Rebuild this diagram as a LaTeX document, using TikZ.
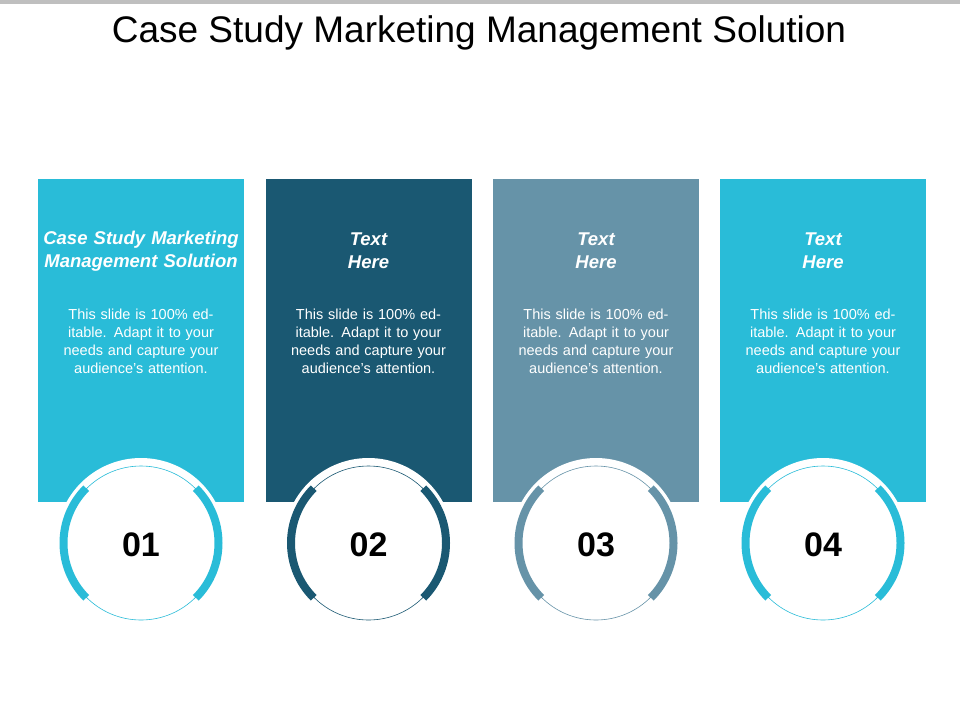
\documentclass[tikz,border=0pt]{standalone}
\usepackage{fontspec}
\setmainfont{Liberation Sans}
\definecolor{cA}{HTML}{29BCD8}
\definecolor{cB}{HTML}{1A5872}
\definecolor{cC}{HTML}{6693A8}
\begin{document}
\begin{tikzpicture}[x=1pt,y=-1pt,
  panel/.style={fill=#1,draw=none},
  head/.style={text=white,font=\fontsize{18.5}{23}\selectfont\bfseries\itshape,align=center,text width=210pt},
  body/.style={text=white,font=\fontsize{14.5}{18}\selectfont,align=center,text width=160pt},
  num/.style={font=\fontsize{34}{36}\selectfont\bfseries}]
\useasboundingbox (0,0) rectangle (960,720);
\fill[white] (0,0) rectangle (960,720);
\fill[black!25] (0,0) rectangle (960,4);
\node[font=\fontsize{37}{40}\selectfont] (title) at (479,33) {Case Study Marketing Management Solution};
\foreach \i/\x/\c/\h in {1/141/cA/{Case Study Marketing\\Management Solution},2/368.5/cB/{Text\\Here},3/596/cC/{Text\\Here},4/823/cA/{Text\\Here}}{
  \fill[panel=\c] (\x-103,179) rectangle (\x+103,502);
  \node[head] (h\i) at (\x,251) {\h};
  \node[body] (b\i) at (\x,341) {This slide is 100\% editable. Adapt it to your needs and capture your audience's attention.};
  \fill[white] (\x,543) circle (85);
  \draw[\c,line width=0.6pt] (\x,543) circle (77);
  \draw[\c,line width=8pt] ([shift={(135:77.5)}]\x,543) arc[start angle=135,end angle=225,radius=77.5];
  \draw[\c,line width=8pt] ([shift={(-45:77.5)}]\x,543) arc[start angle=-45,end angle=45,radius=77.5];
  \node[num] (n\i) at (\x,545) {0\i};
}
\end{tikzpicture}
\end{document}
